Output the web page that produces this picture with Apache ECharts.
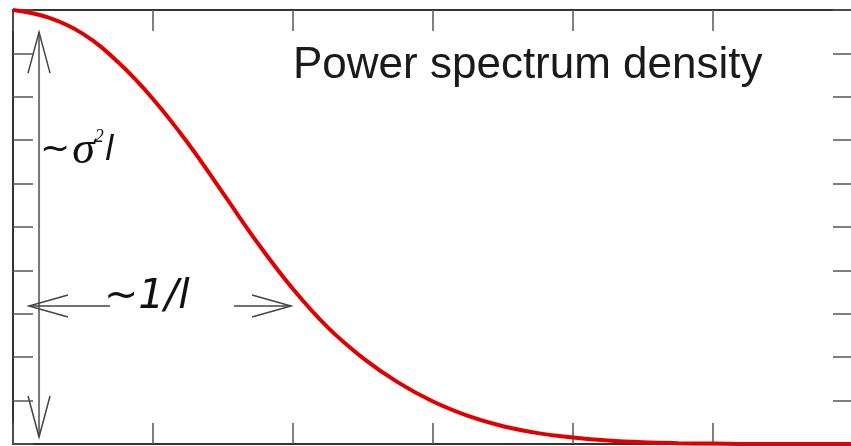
<!DOCTYPE html>
<html>
<head>
<meta charset="utf-8">
<script src="https://cdn.jsdelivr.net/npm/echarts@6/dist/echarts.min.js"></script>
<style>
  html, body { margin: 0; padding: 0; background: #fff; }
  #chart { width: 851px; height: 446px; }
</style>
</head>
<body>
<div id="chart"></div>
<script>
// curve values
const xs = [0, 0.25, 0.5, 0.75, 1, 1.25, 1.5, 1.75, 2, 2.25, 2.5, 2.75, 3, 3.25, 3.5, 3.75, 4, 4.25, 4.5, 4.75, 5, 5.25, 5.5, 5.75, 6];
const psd = [1.0, 0.983, 0.945, 0.88, 0.795, 0.693, 0.578, 0.462, 0.357, 0.268, 0.198, 0.142, 0.098, 0.065, 0.041, 0.025, 0.015, 0.008, 0.004, 0.002, 0.001, 0, 0, 0, 0];

const xTicks = [0, 1, 2, 3, 4, 5, 6];
const yTicks = [0, 0.1, 0.2, 0.3, 0.4, 0.5, 0.6, 0.7, 0.8, 0.9, 1];

const title = 'Power spectrum density';

const myChart = echarts.init(document.getElementById('chart'));

const axisLine = { show: true, onZero: false, lineStyle: { color: '#333', width: 2 } };
const tickStyle = { color: '#555', width: 1.5 };

const xAxisBase = {
  type: 'value',
  min: xTicks[0],
  max: xTicks[xTicks.length - 1],
  interval: 1,
  axisLine: axisLine,
  axisTick: { show: true, inside: true, length: 21, lineStyle: tickStyle },
  axisLabel: { show: false },
  splitLine: { show: false }
};
const yAxisBase = {
  type: 'value',
  min: yTicks[0],
  max: yTicks[yTicks.length - 1],
  interval: 0.1,
  axisLine: axisLine,
  axisTick: { show: true, inside: true, length: 20, lineStyle: tickStyle },
  axisLabel: { show: false },
  splitLine: { show: false }
};

const option = {
  animation: false,
  // the right border sits just outside the picture, so let the grid overflow
  grid: { left: 13, top: 10, width: 840, height: 434, outerBoundsMode: 'none' },
  xAxis: [
    Object.assign({}, xAxisBase, { position: 'bottom' }),
    Object.assign({}, xAxisBase, { position: 'top' })
  ],
  yAxis: [
    Object.assign({}, yAxisBase, { position: 'left' }),
    Object.assign({}, yAxisBase, { position: 'right' })
  ],
  series: [
    {
      type: 'line',
      data: xs.map((x, i) => [x, psd[i]]),
      smooth: 0.4,
      symbol: 'none',
      lineStyle: { color: '#e00000', width: 4 },
      z: 5
    }
  ]
};
myChart.setOption(option);

// annotations, anchored in data coordinates
const px = p => myChart.convertToPixel({ gridIndex: 0 }, p);
const arrowStyle = { stroke: '#444', lineWidth: 1.5, fill: null };

function arrowHead(tip, dir, len, half) {
  // dir: unit vector pointing towards the tip
  const bx = tip[0] - dir[0] * len, by = tip[1] - dir[1] * len;
  return {
    type: 'polyline',
    shape: { points: [[bx - dir[1] * half, by + dir[0] * half], tip, [bx + dir[1] * half, by - dir[0] * half]] },
    style: arrowStyle
  };
}

const vTop = px([0.186, 0.949]);
const vBot = px([0.186, 0.016]);
const hL = px([0.114, 0.318]);
const hR = px([1.986, 0.318]);

myChart.setOption({
  graphic: [
    { type: 'line', shape: { x1: vTop[0], y1: vTop[1], x2: vBot[0], y2: vBot[1] }, style: { stroke: '#777', lineWidth: 2 } },
    arrowHead(vTop, [0, -1], 41, 11),
    arrowHead(vBot, [0, 1], 41, 11),
    { type: 'line', shape: { x1: hL[0], y1: hL[1], x2: hL[0] + 81, y2: hL[1] }, style: { stroke: '#444', lineWidth: 1.5 } },
    { type: 'line', shape: { x1: hR[0] - 57, y1: hR[1], x2: hR[0], y2: hR[1] }, style: { stroke: '#444', lineWidth: 1.5 } },
    arrowHead(hL, [-1, 0], 39, 11),
    arrowHead(hR, [1, 0], 39, 11),
    {
      type: 'text', left: 293, top: 44,
      style: { text: title, font: '44px "Liberation Sans", Arial, sans-serif', fill: '#1a1a1a' }
    },
    {
      type: 'text', left: 104, top: 277,
      style: { text: '~1/l', font: 'italic 41px "DejaVu Sans", sans-serif', fill: '#111' }
    },
    {
      type: 'text', left: 40, top: 128,
      style: {
        rich: {
          t: { font: 'italic 36px "DejaVu Sans", sans-serif', fill: '#111', padding: [0, 2, 0, 0] },
          s: { font: 'italic 46px "Liberation Serif", serif', fill: '#111' },
          b: { font: 'italic 18px "Liberation Serif", serif', fill: '#111', verticalAlign: 'top', padding: [0, 1, 22, 0] },
          l: { font: 'italic 34px "DejaVu Sans", sans-serif', fill: '#111' }
        },
        text: '{t|~}{s|σ}{b|2}{l|l}'
      }
    }
  ]
});
</script>
</body>
</html>
